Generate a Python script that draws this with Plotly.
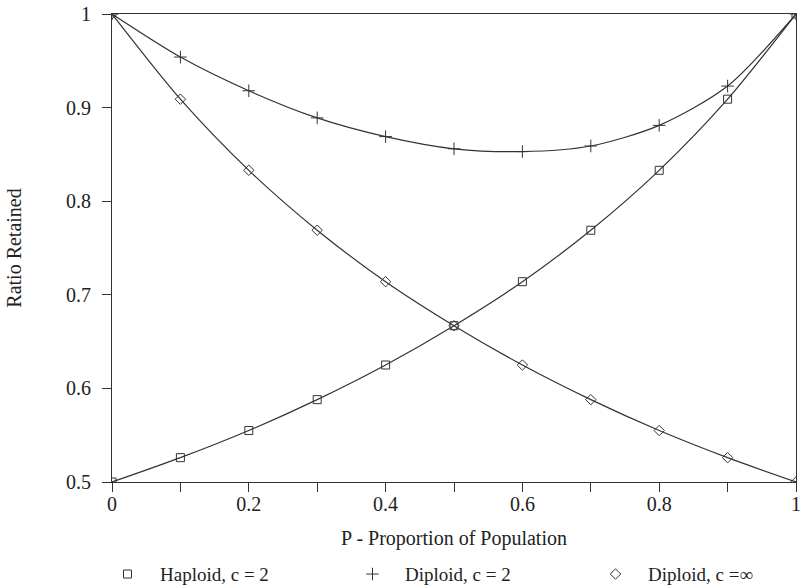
import plotly.graph_objects as go

# Proportion of population (x) and retained ratio for each model
p = [0.0, 0.1, 0.2, 0.3, 0.4, 0.5, 0.6, 0.7, 0.8, 0.9, 1.0]
haploid_c2 = [0.5, 0.526, 0.555, 0.588, 0.625, 0.667, 0.714, 0.769, 0.833, 0.909, 1.0]
diploid_c2 = [1.0, 0.954, 0.918, 0.889, 0.869, 0.856, 0.853, 0.859, 0.881, 0.923, 1.0]
diploid_cinf = [1.0, 0.909, 0.833, 0.769, 0.714, 0.667, 0.625, 0.588, 0.555, 0.526, 0.5]

series_names = ["Haploid, c = 2", "Diploid, c = 2", "Diploid, c =\u221e"]
x_ticks = [0.0, 0.1, 0.2, 0.3, 0.4, 0.5, 0.6, 0.7, 0.8, 0.9, 1.0]
x_tick_labels = ["0", "", "0.2", "", "0.4", "", "0.6", "", "0.8", "", "1"]
y_ticks = [0.5, 0.6, 0.7, 0.8, 0.9, 1.0]
y_tick_labels = ["0.5", "0.6", "0.7", "0.8", "0.9", "1"]

FONT = "Liberation Serif, Times New Roman, serif"
INK = "#333333"
TEXT = "#222222"

fig = go.Figure()
styles = [
    (haploid_c2, "square-open", 8),
    (diploid_c2, "cross-thin-open", 9),
    (diploid_cinf, "diamond-open", 8),
]
legend_ids = ["legend", "legend2", "legend3"]
for name, (ys, sym, sz), lg in zip(series_names, styles, legend_ids):
    marker = dict(symbol=sym, size=sz, color=INK, line=dict(color=INK, width=1))
    # curve with point markers
    fig.add_trace(go.Scatter(
        x=p, y=ys, name=name, showlegend=False,
        mode="lines+markers",
        line=dict(color=INK, width=1.2, shape="spline", smoothing=0.8),
        marker=marker,
    ))
    # marker-only key entry below the axes
    fig.add_trace(go.Scatter(
        x=[None], y=[None], name=name, mode="markers",
        marker=marker, legend=lg, showlegend=True,
    ))

axis_common = dict(
    showline=True, linecolor=INK, linewidth=1.2, mirror=True,
    ticks="outside", ticklen=9, tickcolor=INK, tickwidth=1,
    showgrid=False, zeroline=False, automargin=False,
    tickfont=dict(family=FONT, size=20, color=TEXT),
)

legend_common = dict(
    orientation="h", yanchor="middle", xanchor="left", y=-0.197,
    font=dict(family=FONT, size=19, color=TEXT),
    itemwidth=55, bgcolor="rgba(0,0,0,0)",
)

fig.update_layout(
    width=801, height=588,
    margin=dict(l=112, r=5, t=14, b=106, autoexpand=False),
    paper_bgcolor="white", plot_bgcolor="white",
    font=dict(family=FONT, color=TEXT),
    xaxis=dict(
        range=[0, 1], tickmode="array", tickvals=x_ticks, ticktext=x_tick_labels,
        ticklabelstandoff=-5,
        title=dict(text="P - Proportion of Population", font=dict(family=FONT, size=20), standoff=16),
        **axis_common,
    ),
    yaxis=dict(
        range=[0.5, 1], tickmode="array", tickvals=y_ticks, ticktext=y_tick_labels,
        ticklabelstandoff=7,
        title=dict(text="Ratio Retained", font=dict(family=FONT, size=20), standoff=38),
        **axis_common,
    ),
    legend=dict(x=(95 - 112) / 684, **legend_common),
    legend2=dict(x=(340 - 112) / 684, **legend_common),
    legend3=dict(x=(583 - 112) / 684, **legend_common),
)

fig.write_html("out.html")
